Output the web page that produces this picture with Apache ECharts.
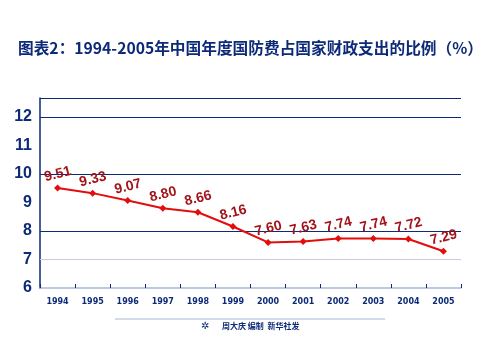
<!DOCTYPE html>
<html>
<head>
<meta charset="utf-8">
<script src="https://cdn.jsdelivr.net/npm/echarts@6/dist/echarts.min.js"></script>
<style>
  html, body { margin: 0; padding: 0; background: #fff; }
  #chart { width: 500px; height: 354px; }
</style>
</head>
<body>
<div id="chart"></div>
<script>
// 年份与国防费占财政支出比例
var years = ['1994', '1995', '1996', '1997', '1998', '1999', '2000', '2001', '2002', '2003', '2004', '2005'];
var ratios = [9.51, 9.33, 9.07, 8.80, 8.66, 8.16, 7.60, 7.63, 7.74, 7.74, 7.72, 7.29];
var gridLevels = [7, 8, 10, 12, 12.67];

var navy = '#0d2a78';

var chart = echarts.init(document.getElementById('chart'));

var option = {
  backgroundColor: '#fff',
  animation: false,
  title: {
    text: '图表2：1994-2005年中国年度国防费占国家财政支出的比例（%）',
    left: 13,
    top: 35,
    textStyle: {
      fontFamily: 'Noto Sans CJK SC',
      fontSize: 15.7,
      fontWeight: 'bold',
      color: navy
    }
  },
  grid: { left: 40, right: 39, top: 98, bottom: 66 },
  xAxis: {
    type: 'category',
    data: years,
    boundaryGap: true,
    axisLine: { lineStyle: { color: '#a9b6d6', width: 1.5 } },
    axisTick: { show: true, inside: true, length: 4, lineStyle: { color: navy } },
    axisLabel: {
      color: navy,
      fontSize: 8,
      fontWeight: 'bold',
      fontFamily: 'DejaVu Sans',
      margin: 10
    },
    splitLine: { show: false }
  },
  yAxis: {
    type: 'value',
    min: 6,
    max: 12.67,
    interval: 1,
    axisLine: { show: true, lineStyle: { color: navy, width: 1.5 } },
    axisTick: { show: false },
    axisLabel: {
      color: navy,
      fontSize: 16,
      fontWeight: 'bold',
      fontFamily: 'Liberation Sans',
      margin: 8,
      showMaxLabel: false,
      formatter: function (v) { return Number.isInteger(v) ? String(v) : ''; }
    },
    splitLine: { show: false }
  },
  series: [{
    type: 'line',
    data: ratios,
    symbol: 'diamond',
    symbolSize: 7,
    lineStyle: { color: '#e30d0d', width: 2 },
    itemStyle: { color: '#e30d0d' },
    label: {
      show: true,
      position: 'top',
      distance: 3,
      offset: [2, 0],
      rotate: 14,
      color: '#a3141a',
      fontSize: 14,
      fontWeight: 'bold',
      fontFamily: 'Liberation Sans',
      formatter: function (p) { return p.value.toFixed(2); }
    },
    markLine: {
      silent: true,
      symbol: 'none',
      label: { show: false },
      data: gridLevels.map(function (v) {
        return {
          yAxis: v,
          lineStyle: { color: v === 7 ? '#c5cbe8' : navy, width: 1.2, type: 'solid' }
        };
      }),
      z: 1
    },
    z: 5
  }],
  graphic: [
    { type: 'line', shape: { x1: 115, y1: 319, x2: 385, y2: 319 }, style: { stroke: '#a9b6d6', lineWidth: 1 } },
    { type: 'text', left: 201, top: 321, style: { text: '✲', fill: navy, fontSize: 10 } },
    {
      type: 'text', left: 222, top: 322,
      style: { text: '周大庆 编制  新华社发', fill: navy, fontSize: 8, fontWeight: 'bold', fontFamily: 'Noto Sans CJK SC' }
    }
  ]
};

chart.setOption(option);
</script>
</body>
</html>
